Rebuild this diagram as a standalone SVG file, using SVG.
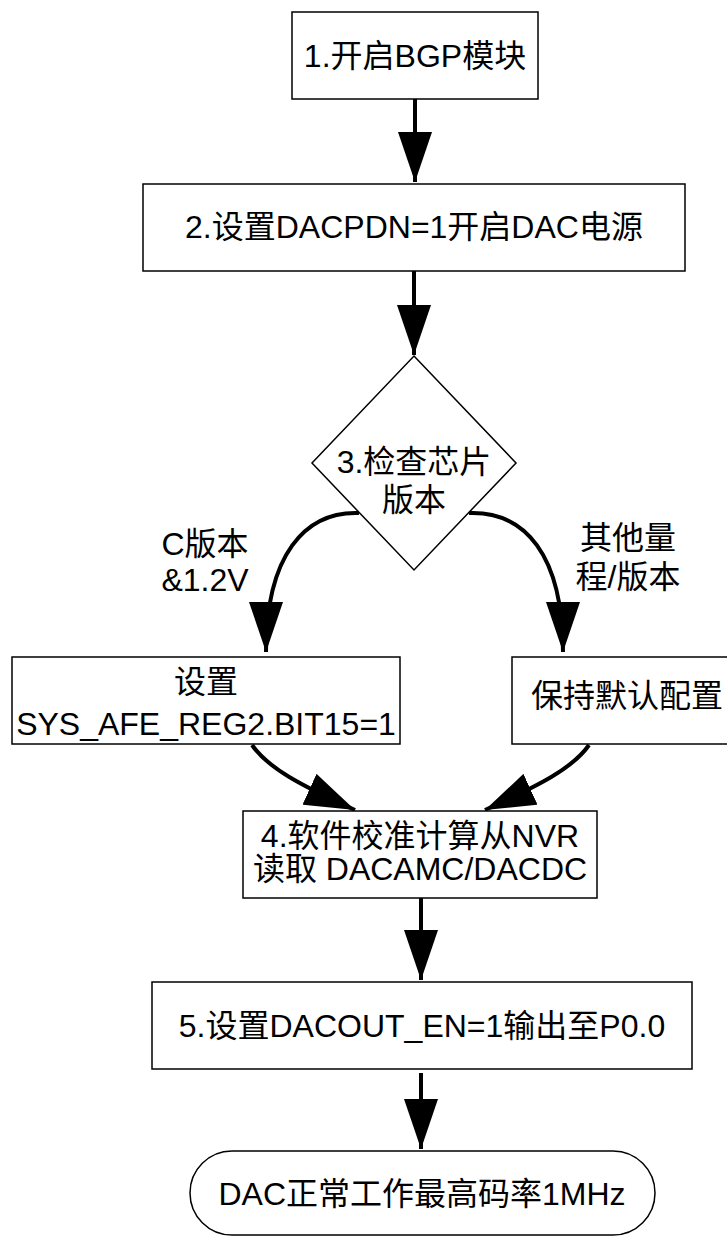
<svg xmlns="http://www.w3.org/2000/svg" width="727" height="1236" viewBox="0 0 727 1236">
<style>
.box{fill:#fff;stroke:#000;stroke-width:1.5}
.t{font-family:"Liberation Sans","Noto Sans CJK SC",sans-serif;font-size:32px;fill:#000;text-anchor:middle}
.c{fill:none;stroke:#000;stroke-width:4}
</style>
<defs>
<marker id="ah" viewBox="0 0 50 34" refX="50" refY="17" markerWidth="50" markerHeight="34" markerUnits="userSpaceOnUse" orient="auto">
<path d="M0,0 L50,17 L0,34 Z" fill="#000"/>
</marker>
</defs>
<rect width="727" height="1236" fill="#fff"/>
<g id="connectors">
<path class="c" d="M415,99 L415,182" marker-end="url(#ah)"/>
<path class="c" d="M414,271 L414,355" marker-end="url(#ah)"/>
<path class="c" d="M359,513 C305,511 266,555 266,652" marker-end="url(#ah)"/>
<path class="c" d="M469,513 C525,511 563,555 563,652" marker-end="url(#ah)"/>
<path class="c" d="M252,745 C268,768 300,785 355,810" marker-end="url(#ah)"/>
<path class="c" d="M589,745 C573,768 540,785 485,810" marker-end="url(#ah)"/>
<path class="c" d="M421,898 L421,980" marker-end="url(#ah)"/>
<path class="c" d="M421,1073 L421,1149" marker-end="url(#ah)"/>
</g>
<g id="n1">
<rect class="box" x="292" y="12" width="246" height="87"/>
<text class="t" x="415" y="67">1.开启BGP模块</text>
</g>
<g id="n2">
<rect class="box" x="143" y="184" width="542" height="87"/>
<text class="t" x="414" y="238">2.设置DACPDN=1开启DAC电源</text>
</g>
<g id="n3">
<polygon class="box" points="414,356 516,463 414,570 312,463"/>
<text class="t" x="414" y="473">3.检查芯片</text>
<text class="t" x="414" y="511">版本</text>
</g>
<g id="lblC">
<text class="t" x="205" y="555">C版本</text>
<text class="t" x="205" y="591">&amp;1.2V</text>
</g>
<g id="lblOther">
<text class="t" x="628" y="549">其他量</text>
<text class="t" x="628" y="588">程/版本</text>
</g>
<g id="nL">
<rect class="box" x="12" y="657" width="388" height="87"/>
<text class="t" x="206" y="693">设置</text>
<text class="t" x="206" y="735">SYS_AFE_REG2.BIT15=1</text>
</g>
<g id="nR">
<rect class="box" x="512" y="657" width="231" height="87"/>
<text class="t" x="627" y="707">保持默认配置</text>
</g>
<g id="n4">
<rect class="box" x="243" y="811" width="354" height="87"/>
<text class="t" x="420" y="847">4.软件校准计算从NVR</text>
<text class="t" x="420" y="880">读取 DACAMC/DACDC</text>
</g>
<g id="n5">
<rect class="box" x="152" y="982" width="540" height="87"/>
<text class="t" x="422" y="1037">5.设置DACOUT_EN=1输出至P0.0</text>
</g>
<g id="end">
<rect class="box" x="190" y="1151" width="465" height="84" rx="42" ry="42"/>
<text class="t" x="422" y="1205">DAC正常工作最高码率1MHz</text>
</g>
</svg>
